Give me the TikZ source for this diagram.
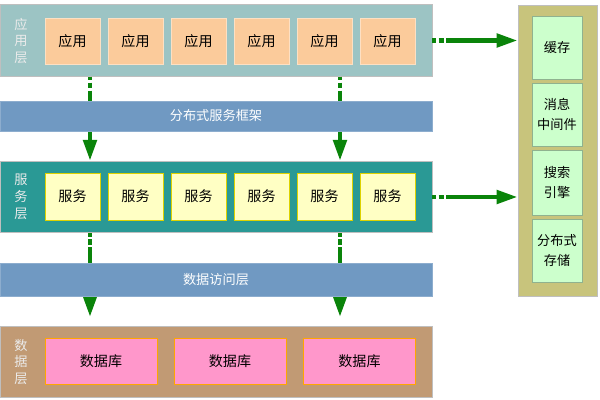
\documentclass[tikz,border=0pt]{standalone}
\usepackage{fontspec}
\setmainfont{Noto Sans CJK SC}
\usetikzlibrary{arrows.meta}
\definecolor{appbg}{HTML}{9CC4C4}
\definecolor{appbox}{HTML}{FBCB9B}
\definecolor{barbg}{HTML}{7099C2}
\definecolor{srvbg}{HTML}{2A9995}
\definecolor{srvbox}{HTML}{FFFFC4}
\definecolor{databg}{HTML}{C19A74}
\definecolor{databox}{HTML}{FF97CB}
\definecolor{colbg}{HTML}{C8C47C}
\definecolor{colbox}{HTML}{CCFFCC}
\definecolor{flowgreen}{HTML}{0A840A}
\begin{document}
\begin{tikzpicture}
        \tikzstyle{every node}=[rectangle, inner sep=0pt, font=\fontsize{8}{11}\selectfont, text=black, align=center]
        \tikzstyle{layer}=[minimum width=8.64cm, minimum height=1.43cm, draw=black!25, line width=0.4pt]
        \tikzstyle{bar}=[fill=barbg, draw=barbg!80!white, minimum width=8.64cm, text=white, font=\fontsize{7.5}{9}\selectfont]
        \tikzstyle{tag}=[text=white!92!black, font=\fontsize{7.5}{9.6}\selectfont]
        \tikzstyle{flow}=[flowgreen, line width=2.6pt, dash pattern=on 2pt off 1.5pt on 3pt off 1.5pt on 80pt off 0pt, -{Triangle[width=7.5pt,length=12pt]}]
        \useasboundingbox (0,0) rectangle (12,8);

        % layers
        \node[layer, fill=appbg] (app) at (4.32,7.19) {};
        \node[layer, fill=srvbg] (srv) at (4.32,4.06) {};
        \node[layer, fill=databg] (data) at (4.32,0.76) {};
        \node[draw=black!25, fill=colbg, minimum width=1.58cm, minimum height=5.82cm] (col) at (11.15,4.99) {};

        \node[tag] (applbl) at (0.42,7.18) {应\\用\\层};
        \node[tag] (srvlbl) at (0.42,4.06) {服\\务\\层};
        \node[tag] (datalbl) at (0.42,0.76) {数\\据\\层};

        % boxes
        \foreach \x [count=\i] in {1.45,2.71,3.97,5.23,6.49,7.75} {
            \node[fill=appbox, draw=appbox!60!white, minimum width=1.1cm, minimum height=0.92cm] (app\i) at (\x,7.18) {应用};
            \node[fill=srvbox, draw=yellow!70!olive, minimum width=1.1cm, minimum height=0.94cm] (srv\i) at (\x,4.07) {服务};
        }
        \foreach \x [count=\i] in {2.02,4.60,7.19}
            \node[fill=databox, draw=orange!70!yellow, minimum width=2.24cm, minimum height=0.92cm] (db\i) at (\x,0.78) {数据库};

        \tikzstyle{cbox}=[fill=colbox, draw=colbox!70!black, minimum width=1.0cm, font=\fontsize{7.5}{11.3}\selectfont]
        \node[cbox, minimum height=1.26cm] (cache) at (11.14,7.05) {缓存};
        \node[cbox, minimum height=1.26cm] (mq) at (11.14,5.71) {消息\\中间件};
        \node[cbox, minimum height=1.30cm] (search) at (11.14,4.35) {搜索\\引擎};
        \node[cbox, minimum height=1.26cm] (store) at (11.14,2.99) {分布式\\存储};

        % connectors
        \coordinate (v1) at (1.8,0);
        \coordinate (v2) at (6.8,0);
        \draw[flow] (app.south -| v1) -- (srv.north -| v1);
        \draw[flow] (app.south -| v2) -- (srv.north -| v2);
        \draw[flow, shorten >=5pt] (srv.south -| v1) -- (data.north -| v1);
        \draw[flow, shorten >=5pt] (srv.south -| v2) -- (data.north -| v2);
        \draw[flow] (app.east) -- (col.west |- app.east);
        \draw[flow] (srv.east) -- (col.west |- srv.east);

        % bars drawn over the arrows
        \node[bar, minimum height=0.6cm] (frame) at (4.32,5.68) {分布式服务框架};
        \node[bar, minimum height=0.66cm] (dao) at (4.32,2.41) {数据访问层};
    \end{tikzpicture}
\end{document}
